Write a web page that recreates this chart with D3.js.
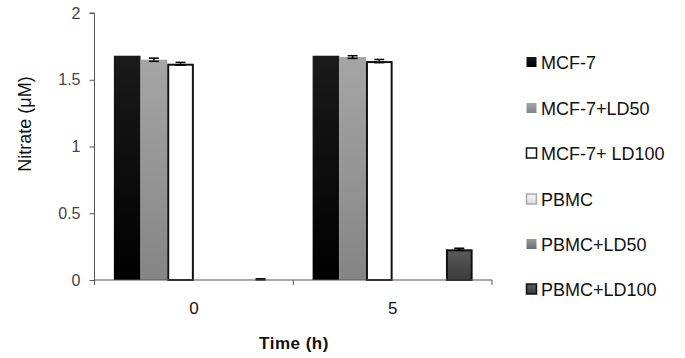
<!DOCTYPE html>
<html><head><meta charset="utf-8">
<script src="https://cdn.jsdelivr.net/npm/d3@7"></script>
<style>body{margin:0;background:#fff}svg{display:block}</style>
</head><body>
<svg id="c" width="685" height="358"></svg>
<script>
const categories = ["0", "5"];
const seriesNames = ["MCF-7", "MCF-7+LD50", "MCF-7+ LD100", "PBMC", "PBMC+LD50", "PBMC+LD100"];
const valuesMCF7 = [1.68, 1.68];
const valuesMCF7LD50 = [1.65, 1.67];
const valuesMCF7LD100 = [1.62, 1.64];
const valuesPBMC = [0, 0];
const valuesPBMCLD50 = [0, 0];
const valuesPBMCLD100 = [0.005, 0.23];
const errMCF7 = [0, 0];
const errMCF7LD50 = [0.012, 0.01];
const errMCF7LD100 = [0.01, 0.012];
const errPBMC = [0, 0];
const errPBMCLD50 = [0, 0];
const errPBMCLD100 = [0.004, 0.008];
const yTicks = [0, 0.5, 1, 1.5, 2];

const allValues = [valuesMCF7, valuesMCF7LD50, valuesMCF7LD100, valuesPBMC, valuesPBMCLD50, valuesPBMCLD100];
const allErr = [errMCF7, errMCF7LD50, errMCF7LD100, errPBMC, errPBMCLD50, errPBMCLD100];

const svg = d3.select("#c");
const defs = svg.append("defs");
const grads = [
  ["g0", "#1a1a1a", "#000000"],
  ["g1", "#a5a5a5", "#858585"],
  ["g2", "#ffffff", "#ffffff"],
  ["g3", "#f4f4f4", "#dcdcdc"],
  ["g4", "#9a9a9a", "#6e6e6e"],
  ["g5", "#5a5a5a", "#3a3a3a"]
];
grads.forEach(([id, a, b]) => {
  const g = defs.append("linearGradient").attr("id", id).attr("x1", 0).attr("y1", 0).attr("x2", 0).attr("y2", 1);
  g.append("stop").attr("offset", "0%").attr("stop-color", a);
  g.append("stop").attr("offset", "100%").attr("stop-color", b);
});
const strokes = ["none", "none", "#111", "#999", "none", "#111"];

const pLeft = 94.5, pRight = 492, pTop = 13, pBottom = 280;
const x0 = d3.scaleBand().domain(categories).range([pLeft, pRight]).paddingInner(0).paddingOuter(0);
const y = d3.scaleLinear().domain([0, 2]).range([pBottom, pTop]);
const groupW = 160;
const x1 = d3.scaleBand().domain(d3.range(6)).range([0, groupW]).padding(0);

// Bars
categories.forEach((c, ci) => {
  const gx = x0(c) + (x0.bandwidth() - groupW) / 2;
  allValues.forEach((vals, si) => {
    const v = vals[ci];
    const bx = gx + x1(si), bw = x1.bandwidth();
    if (v > 0.02) {
      const sw = strokes[si] === "none" ? 0 : 2;
      svg.append("rect")
        .attr("x", bx + sw / 2).attr("y", y(v) + sw / 2)
        .attr("width", bw - sw).attr("height", y(0) - y(v) - sw / 2)
        .attr("fill", `url(#g${si})`)
        .attr("stroke", strokes[si]).attr("stroke-width", sw);
    }
    const e = allErr[si][ci];
    if (e > 0) {
      const cx = bx + bw / 2;
      const eg = svg.append("g").attr("stroke", "#000").attr("stroke-width", 1.5);
      eg.append("line").attr("x1", cx).attr("x2", cx).attr("y1", y(v + e)).attr("y2", y(Math.max(0, v - e)));
      eg.append("line").attr("x1", cx - 5).attr("x2", cx + 5).attr("y1", y(v + e)).attr("y2", y(v + e));
      eg.append("line").attr("x1", cx - 5).attr("x2", cx + 5).attr("y1", y(Math.max(0, v - e))).attr("y2", y(Math.max(0, v - e)));
    }
  });
});

// Y axis
const yAxis = svg.append("g").attr("transform", `translate(${pLeft},0)`)
  .call(d3.axisLeft(y).tickValues(yTicks).tickSize(5).tickPadding(9).tickFormat(d3.format("~g")));
yAxis.select(".domain").attr("stroke", "#555").attr("d", `M-5,${pTop}H0V${pBottom}`);
yAxis.selectAll(".tick line").attr("stroke", "#555");
yAxis.selectAll("text").attr("font-family", "Liberation Sans, Arial, sans-serif").attr("font-size", 16).attr("fill", "#444");

// X axis
const xAxis = svg.append("g").attr("transform", `translate(0,${pBottom})`);
xAxis.append("line").attr("x1", pLeft).attr("x2", pRight).attr("y1", 0).attr("y2", 0).attr("stroke", "#555");
[pLeft, x0("5"), pRight].forEach(t => xAxis.append("line").attr("x1", t).attr("x2", t).attr("y1", 0).attr("y2", 5).attr("stroke", "#555"));
categories.forEach(c => {
  xAxis.append("text").attr("x", x0(c) + x0.bandwidth() / 2).attr("y", 34)
    .attr("text-anchor", "middle").attr("font-family", "Liberation Sans, Arial, sans-serif")
    .attr("font-size", 17).attr("fill", "#111").text(c);
});

// Axis titles
svg.append("text").attr("x", 294).attr("y", 349).attr("text-anchor", "middle")
  .attr("font-family", "Liberation Sans, Arial, sans-serif").attr("font-size", 17).attr("font-weight", "bold")
  .attr("fill", "#111").attr("letter-spacing", 0.5).text("Time (h)");
svg.append("text").attr("transform", "translate(31,124) rotate(-90)").attr("text-anchor", "middle")
  .attr("font-family", "Liberation Sans, Arial, sans-serif").attr("font-size", 18)
  .attr("fill", "#111").text("Nitrate (\u03bcM)");

// Legend
const legY = [62, 108, 153, 199, 244, 289];
seriesNames.forEach((n, i) => {
  const g = svg.append("g").attr("transform", `translate(526,${legY[i]})`);
  g.append("rect").attr("x", 0.5).attr("y", -5).attr("width", 10).attr("height", 10)
    .attr("fill", `url(#g${i})`)
    .attr("stroke", i === 2 ? "#111" : (i === 3 ? "#aaa" : (i === 5 ? "#111" : "none"))).attr("stroke-width", 1.5);
  g.append("text").attr("x", 15).attr("y", 6.5).attr("font-family", "Liberation Sans, Arial, sans-serif")
    .attr("font-size", 18).attr("fill", "#111").text(n);
});
</script>
</body></html>
